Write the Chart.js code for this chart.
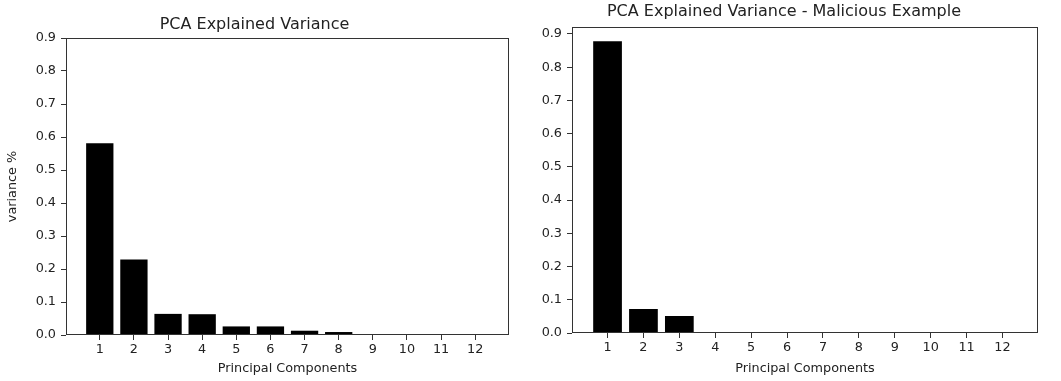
<!DOCTYPE html>
<html>
<head>
<meta charset="utf-8">
<script src="https://cdn.jsdelivr.net/npm/chart.js@4/dist/chart.umd.min.js"></script>
<style>
  html, body { margin: 0; padding: 0; background: #fff; }
  #wrap { position: relative; width: 1061px; height: 381px; }
  .panel { position: absolute; top: 0; height: 381px; }
</style>
</head>
<body>
<div id="wrap">
  <div class="panel" style="left:0;width:530px"><canvas id="pcaAll" width="530" height="381"></canvas></div>
  <div class="panel" style="left:530px;width:531px"><canvas id="pcaMalicious" width="531" height="381"></canvas></div>
</div>
<script>
// Principal component indices (x axis)
const components = [1, 2, 3, 4, 5, 6, 7, 8, 9, 10, 11, 12];

// Explained variance ratio per component
const overallVariance   = [0.581, 0.229, 0.064, 0.063, 0.026, 0.026, 0.013, 0.009, 0, 0, 0, 0];
const maliciousVariance = [0.878, 0.072, 0.051, 0, 0, 0, 0, 0, 0, 0, 0, 0];

// y tick values shown on both panels
const yTickValues = [0, 0.1, 0.2, 0.3, 0.4, 0.5, 0.6, 0.7, 0.8, 0.9];

const TEXT = '#222';
const LINE = '#333';
const FONT = 'DejaVu Sans';

// Draws the closed rectangular frame around the plot area
const framePlugin = {
  id: 'frame',
  afterDraw(chart) {
    const { ctx, chartArea: a } = chart;
    const l = Math.round(a.left) + 0.5, r = Math.round(a.right) - 0.5;
    const t = Math.round(a.top) + 0.5, b = Math.round(a.bottom) - 0.5;
    ctx.save();
    ctx.strokeStyle = LINE;
    ctx.lineWidth = 1;
    ctx.strokeRect(l, t, r - l, b - t);
    ctx.restore();
  }
};

function makeChart(canvasId, titleText, values, opts) {
  const yScale = {
    type: 'linear',
    min: 0,
    max: opts.yMax,
    afterFit(scale) { scale.width = opts.yWidth; },
    afterBuildTicks(scale) { scale.ticks = yTickValues.map(v => ({ value: v })); },
    border: { display: false },
    grid: { drawOnChartArea: false, drawTicks: true, tickLength: 5, color: LINE },
    ticks: {
      color: TEXT, padding: 5,
      font: { family: FONT, size: 12.8 },
      callback: v => v.toFixed(1)
    },
    title: {
      display: !!opts.yTitle,
      text: opts.yTitle || '',
      color: TEXT,
      font: { family: FONT, size: 12.8 },
      padding: { top: 5, bottom: 0 }
    }
  };
  const xScale = {
    type: 'linear',
    offset: false,
    min: 0.01,
    max: 12.99,
    afterFit(scale) { scale.height = opts.xHeight; },
    afterBuildTicks(scale) { scale.ticks = components.map(v => ({ value: v })); },
    border: { display: false },
    grid: { offset: false, drawOnChartArea: false, drawTicks: true, tickLength: 5, color: LINE },
    ticks: {
      color: TEXT, padding: 2, maxRotation: 0, autoSkip: false,
      font: { family: FONT, size: 12.8 },
      callback: v => String(v)
    },
    title: {
      display: true,
      text: 'Principal Components',
      color: TEXT,
      font: { family: FONT, size: 12.8 },
      padding: { top: 0, bottom: 5 }
    }
  };

  return new Chart(document.getElementById(canvasId), {
    type: 'bar',
    data: {
      datasets: [{
        data: components.map((c, i) => ({ x: c, y: values[i] })),
        backgroundColor: '#000',
        borderWidth: 0,
        barPercentage: 0.8,
        categoryPercentage: 1.0
      }]
    },
    options: {
      responsive: false,
      animation: false,
      devicePixelRatio: 1,
      layout: { padding: { left: 0, right: opts.padRight, top: 0, bottom: 0 } },
      plugins: {
        legend: { display: false },
        tooltip: { enabled: false },
        title: {
          display: true,
          text: titleText,
          color: TEXT,
          font: { family: FONT, size: 16, weight: 'normal' },
          padding: opts.titlePad
        }
      },
      scales: { x: xScale, y: yScale }
    },
    plugins: [framePlugin]
  });
}

makeChart('pcaAll', 'PCA Explained Variance', overallVariance, {
  yMax: 0.9,
  yWidth: 66,
  xHeight: 46,
  padRight: 21,
  yTitle: 'variance %',
  titlePad: { top: 15, bottom: 3.8 }
});

makeChart('pcaMalicious', 'PCA Explained Variance - Malicious Example', maliciousVariance, {
  yMax: Math.max(...maliciousVariance) * 1.05,
  yWidth: 42,
  xHeight: 48,
  padRight: 23,
  yTitle: '',
  titlePad: { top: 2, bottom: 5.5 }
});
</script>
</body>
</html>
